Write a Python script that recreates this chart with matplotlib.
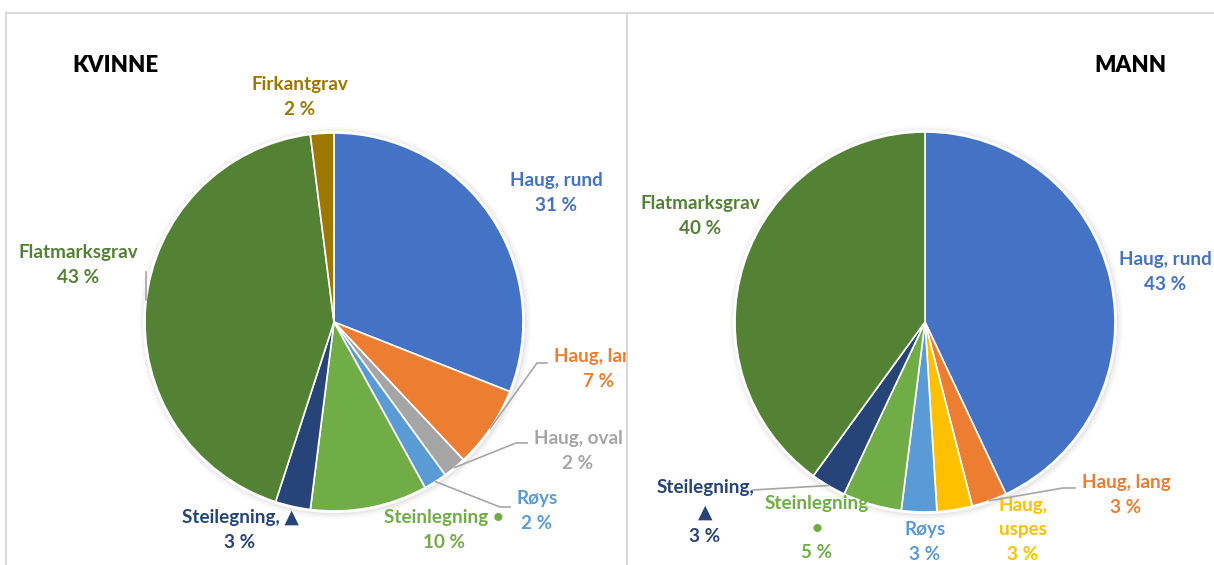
import numpy as np
import matplotlib.pyplot as plt
from matplotlib.patches import Circle

plt.rcParams['font.family'] = ['Lato', 'DejaVu Sans']

W, H = 1214, 565

# data
kv_labels = ['Haug, rund', 'Haug, lang', 'Haug, oval', 'Røys', 'Steinlegning •',
             'Steilegning, ▲', 'Flatmarksgrav', 'Firkantgrav']
kv_values = [31, 7, 2, 2, 10, 3, 43, 2]
kv_colors = ['#4472C4', '#ED7D31', '#A5A5A5', '#5B9BD5', '#70AD47',
             '#264478', '#548235', '#9E7700']

mann_labels = ['Haug, rund', 'Haug, lang', 'Haug,\nuspes', 'Røys', 'Steinlegning\n•',
               'Steilegning,\n▲', 'Flatmarksgrav']
mann_values = [43, 3, 3, 3, 5, 3, 40]
mann_colors = ['#4472C4', '#ED7D31', '#FFC000', '#5B9BD5', '#70AD47',
               '#264478', '#548235']

# layout (pixels from top-left)
kv_center, kv_radius = (334, 322), 189
mann_center, mann_radius = (925, 322), 190

kv_label_pos = [(556, 193), (598, 369), (578, 451), (537, 511), (444, 530),
                (240, 530), (78, 265), (300, 97)]
kv_leaders = {1: [(547, 363), (537, 363)], 2: [(527, 443), (516, 443)],
              3: [(510, 507), (500, 507)], 6: [(146, 272), (146, 300)]}

mann_label_pos = [(1165, 272), (1126, 495), (1023, 530), (925, 542), (817, 528),
                  (705, 512), (700, 216)]
mann_leaders = {1: [(1075, 488), (1063, 488)], 5: [(753, 490)]}

SEP = 627


def edge_point(values, i, center, r):
    cum = np.cumsum([0] + list(values))
    frac = (cum[i] + cum[i + 1]) / 2 / cum[-1]
    ang = np.deg2rad(frac * 360)
    return center[0] + r * np.sin(ang), center[1] - r * np.cos(ang)


def draw_pie(ax, x0, values, labels, colors, center, r, label_pos, leaders):
    cx, cy = center[0] - x0, H - center[1]
    # soft shadow
    for k, a in [(7, 0.03), (5, 0.05), (3, 0.08)]:
        ax.add_patch(Circle((cx + 1, cy - 1), r + k, color='#7f7f7f', alpha=a, lw=0))
    ax.add_patch(Circle((cx, cy), r + 2, color='white', lw=0))
    ax.pie(values, colors=colors, startangle=90, counterclock=False,
           center=(cx, cy), radius=r,
           wedgeprops=dict(edgecolor='white', linewidth=1.2))
    for i, (lab, val) in enumerate(zip(labels, values)):
        lx, ly = label_pos[i]
        ax.text(lx - x0, H - ly, f'{lab}\n{val} %', color=colors[i],
                fontsize=13.6, fontweight='bold', ha='center', va='center',
                linespacing=1.55, clip_on=True)
        if i in leaders:
            pts = list(leaders[i])
            if i != 6 or x0 > 0:
                pts.append(edge_point(values, i, center, r))
            xs = [p[0] - x0 for p in pts]
            ys = [H - p[1] for p in pts]
            ax.plot(xs, ys, color='#A6A6A6', lw=1.2, zorder=5)


fig = plt.figure(figsize=(W / 100, H / 100), dpi=100)
ax_l = fig.add_axes([0, 0, SEP / W, 1])
ax_r = fig.add_axes([SEP / W, 0, 1 - SEP / W, 1])

draw_pie(ax_l, 0, kv_values, kv_labels, kv_colors, kv_center, kv_radius,
         kv_label_pos, kv_leaders)
draw_pie(ax_r, SEP, mann_values, mann_labels, mann_colors, mann_center, mann_radius,
         mann_label_pos, mann_leaders)

ax_l.set_xlim(0, SEP)
ax_l.set_ylim(0, H)
ax_r.set_xlim(0, W - SEP)
ax_r.set_ylim(0, H)
for ax in (ax_l, ax_r):
    ax.set_aspect('auto')
    ax.axis('off')

ax_l.text(115, H - 65, 'KVINNE', fontsize=16, fontweight='heavy', ha='center',
          va='center', color='black')
ax_r.text(1130 - SEP, H - 65, 'MANN', fontsize=16, fontweight='heavy', ha='center',
          va='center', color='black')

# frame lines
fig.add_artist(plt.Line2D([6 / W, 1], [1 - 13 / H] * 2, color='#D9D9D9', lw=1.5))
fig.add_artist(plt.Line2D([6 / W] * 2, [0, 1 - 13 / H], color='#D9D9D9', lw=1.5))
fig.add_artist(plt.Line2D([SEP / W] * 2, [0, 1 - 13 / H], color='#D9D9D9', lw=1.5))

fig.savefig('out.png', dpi=100)
